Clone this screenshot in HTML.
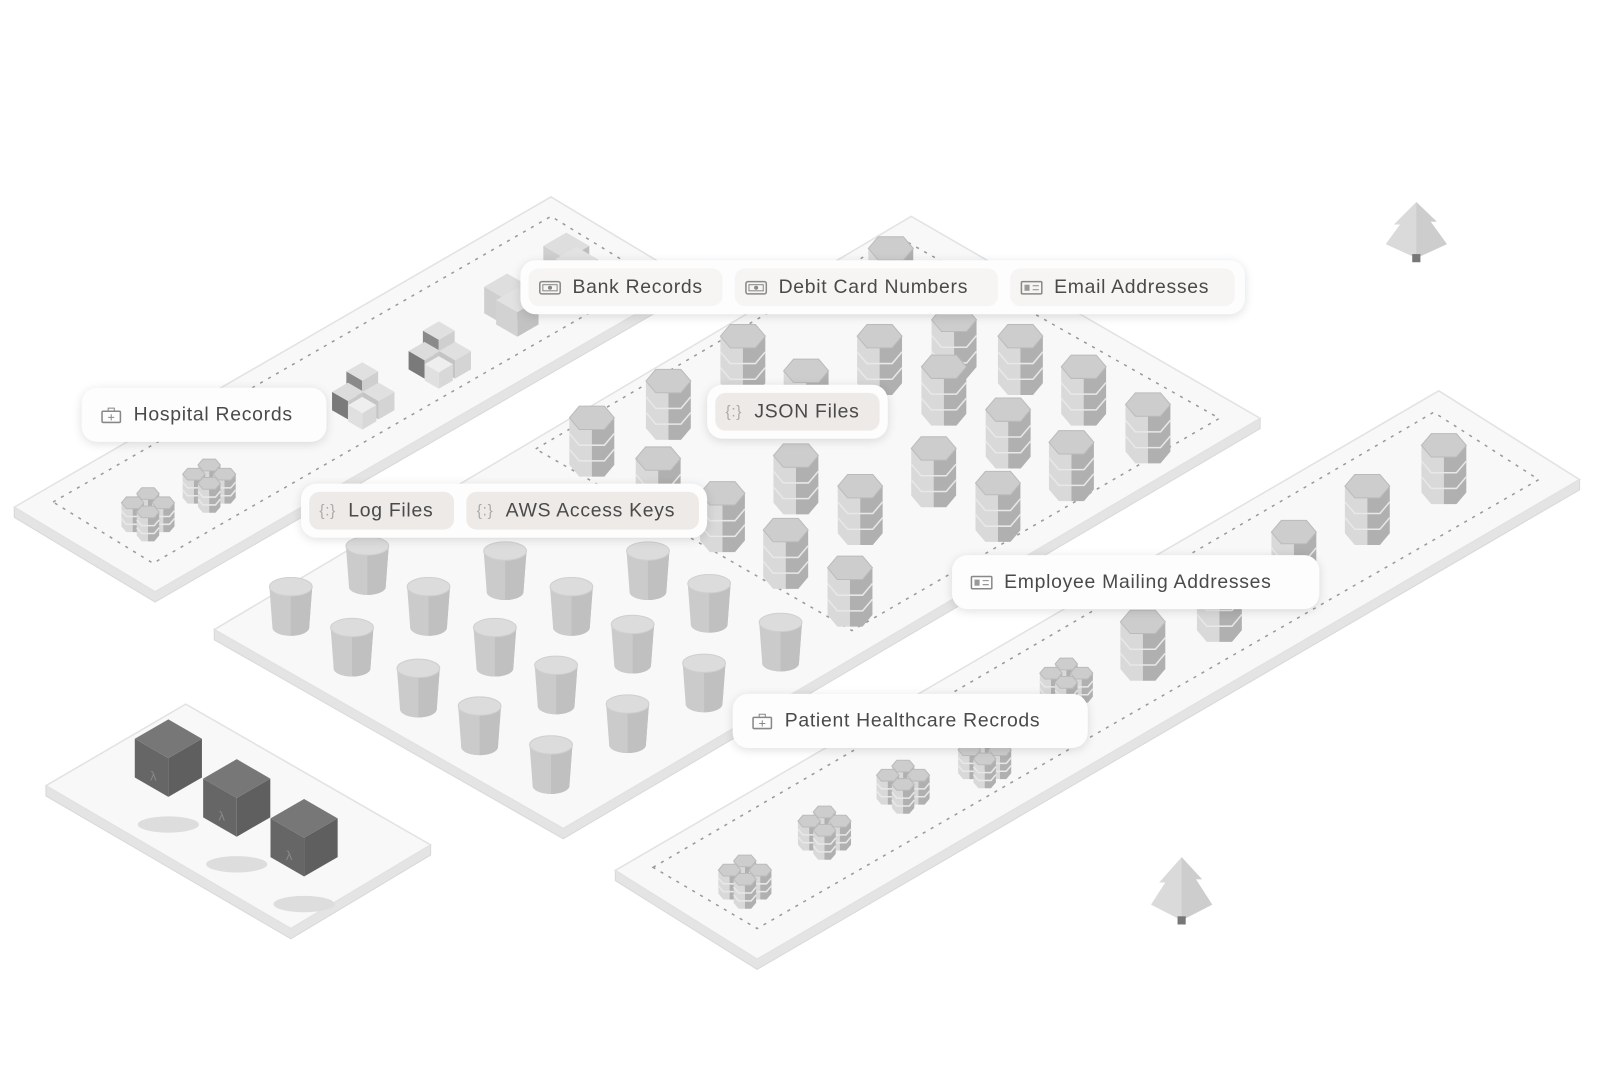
<!DOCTYPE html>
<html><head><meta charset="utf-8">
<style>
html,body{margin:0;padding:0;background:#fff;}
#root{position:relative;width:1568px;height:1044px;transform:scale(1.0204);transform-origin:0 0;overflow:hidden;}
#scene{position:absolute;left:0;top:0;}
.grp{position:absolute;height:53px;background:#fdfdfd;border-radius:15px;box-shadow:0 2px 10px rgba(0,0,0,.13);display:flex;align-items:center;padding:0 8px;box-sizing:border-box;gap:12px;}
.pill{height:37px;border-radius:10px;display:flex;align-items:center;padding:0 10px;box-sizing:border-box;background:#f7f5f4;font-family:"Liberation Sans",sans-serif;font-size:19px;color:#4a4a4a;letter-spacing:0.7px;white-space:nowrap;}
.pill.pk{background:#eeeae8;}
.pill.wh{background:transparent;}
.ic{width:22px;height:16px;margin-right:11px;flex:none;position:static;}
</style></head>
<body>
<div id="root">
<svg id="scene" width="1568" height="1044" viewBox="0 0 1568 1044"></svg>

<div class="grp" style="left:510px;top:255px;width:710px;">
 <div class="pill" style="width:190px"><svg class="ic" viewBox="0 0 22 16"><rect x="1" y="2" width="20" height="12" rx="2" fill="none" stroke="#888" stroke-width="1.5"/><rect x="4" y="5" width="14" height="6" fill="none" stroke="#888"/><circle cx="11" cy="8" r="2" fill="#888"/></svg>Bank Records</div>
 <div class="pill" style="width:258px"><svg class="ic" viewBox="0 0 22 16"><rect x="1" y="2" width="20" height="12" rx="2" fill="none" stroke="#888" stroke-width="1.5"/><rect x="4" y="5" width="14" height="6" fill="none" stroke="#888"/><circle cx="11" cy="8" r="2" fill="#888"/></svg>Debit Card Numbers</div>
 <div class="pill" style="width:220px"><svg class="ic" viewBox="0 0 22 16"><rect x="1" y="2" width="20" height="12" rx="1" fill="none" stroke="#888" stroke-width="1.5"/><rect x="4" y="5" width="5" height="6" fill="#999"/><line x1="12" y1="6" x2="18" y2="6" stroke="#888"/><line x1="12" y1="10" x2="18" y2="10" stroke="#888"/></svg>Email Addresses</div>
</div>

<div class="grp" style="left:80px;top:380px;width:240px;">
 <div class="pill wh"><svg class="ic" viewBox="0 0 22 16"><rect x="2" y="4" width="18" height="11" rx="1" fill="none" stroke="#888" stroke-width="1.5"/><path d="M8 4V1h6v3" fill="none" stroke="#888"/><path d="M11 7v6M8 10h6" stroke="#888"/></svg>Hospital Records</div>
</div>

<div class="grp" style="left:693px;top:377px;width:177px;">
 <div class="pill pk" style="width:161px"><span style="color:#aaa;font-size:15px;margin-right:12px">{:}</span>JSON Files</div>
</div>

<div class="grp" style="left:295px;top:474px;width:398px;">
 <div class="pill pk" style="width:143px"><span style="color:#aaa;font-size:15px;margin-right:12px">{:}</span>Log Files</div>
 <div class="pill pk" style="width:229px"><span style="color:#aaa;font-size:15px;margin-right:12px">{:}</span>AWS Access Keys</div>
</div>

<div class="grp" style="left:933px;top:544px;width:360px;">
 <div class="pill wh"><svg class="ic" viewBox="0 0 22 16"><rect x="1" y="2" width="20" height="12" rx="1" fill="none" stroke="#888" stroke-width="1.5"/><rect x="4" y="5" width="5" height="6" fill="#999"/><line x1="12" y1="6" x2="18" y2="6" stroke="#888"/><line x1="12" y1="10" x2="18" y2="10" stroke="#888"/></svg>Employee Mailing Addresses</div>
</div>

<div class="grp" style="left:718px;top:680px;width:348px;">
 <div class="pill wh"><svg class="ic" viewBox="0 0 22 16"><rect x="2" y="4" width="18" height="11" rx="1" fill="none" stroke="#888" stroke-width="1.5"/><path d="M8 4V1h6v3" fill="none" stroke="#888"/><path d="M11 7v6M8 10h6" stroke="#888"/></svg>Patient Healthcare Recrods</div>
</div>
</div>

<script>
const platforms = [
  [[14,497],[540,193],[678,276],[152,580]],
  [[210,617],[893,212],[1235,410],[552,812]],
  [[603,853],[1410,383],[1548,470],[742,940]],
  [[45,770],[182,690],[422,828],[285,910]]
];
const dashed = [
  [[52,492],[540,212],[638,272],[150,552]],
  [[525,440],[880,232],[1195,410],[835,618]],
  [[640,850],[1405,404],[1508,470],[742,910]]
];
const buckets = [[360,535],[495,540],[635,540],[285,575],[420,575],[560,575],[695,572],[345,615],[485,615],[620,612],[765,610],[410,655],[545,652],[690,650],[470,692],[615,690],[540,730]];
const dbs = [[873,232],[728,318],[790,352],[862,318],[1000,318],[935,302],[655,362],[925,348],[1062,348],[580,398],[645,438],[780,435],[988,390],[1125,385],[915,428],[1050,422],[708,472],[843,465],[978,462],[770,508],[833,545],[1415,425],[1340,465],[1268,510],[1195,560],[1120,598]];
const clusters = [[145,478],[205,450],[1045,645],[885,745],[808,790],[730,838],[965,720]];
const blocks = [[355,355],[430,315]];
const stacks = [[497,268],[555,228]];
const darkCubes = [[165,705],[232,744],[298,783]];
const trees = [[1388,198,55],[1158,840,62]];

const S = document.getElementById('scene');
const NS = 'http://www.w3.org/2000/svg';
function el(tag, attrs, name){
  const e = document.createElementNS(NS, tag);
  for (const k in attrs) e.setAttribute(k, attrs[k]);
  
  
  S.appendChild(e); return e;
}
const pts = a => a.map(p=>p[0]+','+p[1]).join(' ');

platforms.forEach((p,i)=>{
  const [L,T,R,B]=p, h=10;
  el('polygon',{points:pts([L,B,R,[R[0],R[1]+h],[B[0],B[1]+h],[L[0],L[1]+h]]),fill:'#e4e4e4',stroke:'#d8d8d8','stroke-width':1},'platform-side-'+i);
  el('polygon',{points:pts(p),fill:'#f8f8f8',stroke:'#e2e2e2','stroke-width':1.5},'platform-'+i);
});
dashed.forEach((p,i)=>{
  el('polygon',{points:pts(p),fill:'none',stroke:'#9a9a9a','stroke-width':1.5,'stroke-dasharray':'3 6'},'dashed-zone-'+i);
});

function bucket(x,y,i){
  el('ellipse',{cx:x,cy:y+40,rx:18,ry:8,fill:'#bdbdbd'},'bucket-base-'+i);
  el('path',{d:`M${x-21} ${y} L${x-18} ${y+40} A18 8 0 0 0 ${x+18} ${y+40} L${x+21} ${y} Z`,fill:'#cbcbcb'},'bucket-body-'+i);
  el('path',{d:`M${x} ${y} L${x+21} ${y} L${x+18} ${y+40} A18 8 0 0 1 ${x} ${y+48} Z`,fill:'#c0c0c0'},'bucket-shade-'+i);
  el('ellipse',{cx:x,cy:y,rx:21,ry:9,fill:'#dcdcdc',stroke:'#cfcfcf'},'bucket-top-'+i);
}
function db(x,y,w,i,name){
  const hw=w/2, q=w*0.22, ry=w*0.26, H=w*1.05;
  const oct=(yy)=>[[x-hw,yy],[x-hw+q,yy-ry],[x+hw-q,yy-ry],[x+hw,yy],[x+hw-q,yy+ry],[x-hw+q,yy+ry]];
  const cy=y+ry;
  el('polygon',{points:pts([[x-hw,cy],[x-hw+q,cy+ry],[x,cy+ry],[x,cy+ry+H],[x-hw+q,cy+ry+H],[x-hw,cy+H]]),fill:'#d9d9d9'},name+'-left-'+i);
  el('polygon',{points:pts([[x,cy+ry],[x+hw-q,cy+ry],[x+hw,cy],[x+hw,cy+H],[x+hw-q,cy+ry+H],[x,cy+ry+H]]),fill:'#b0b0b0'},name+'-right-'+i);
  for(let k=1;k<3;k++){
    const yy=cy+H*k/3;
    el('polyline',{points:pts([[x-hw,yy],[x-hw+q,yy+ry],[x+hw-q,yy+ry],[x+hw,yy]]),fill:'none',stroke:'#e8e8e8','stroke-width':1.5},name+'-band-'+i);
  }
  el('polygon',{points:pts(oct(cy)),fill:'#cdcdcd',stroke:'#bbb'},name+'-top-'+i);
}
function cube(x,y,s,top,left,right,name,i){
  const a=s*0.866,b=s*0.5;
  el('polygon',{points:pts([[x-a,y+b],[x,y+s],[x,y+2*s],[x-a,y+1.5*s]]),fill:left},name+'-left-'+i);
  el('polygon',{points:pts([[x+a,y+b],[x,y+s],[x,y+2*s],[x+a,y+1.5*s]]),fill:right},name+'-right-'+i);
  el('polygon',{points:pts([[x,y],[x+a,y+b],[x,y+s],[x-a,y+b]]),fill:top},name+'-top-'+i);
}

stacks.forEach((p,i)=>{
  cube(p[0],p[1],26,'#dedede','#cfcfcf','#bdbdbd','paper-stack',i);
  cube(p[0]+10,p[1]+14,24,'#e2e2e2','#d2d2d2','#c2c2c2','paper-stack-b',i);
});
blocks.forEach((p,i)=>{
  cube(p[0],p[1],18,'#e0e0e0','#8a8a8a','#cfcfcf','block-top',i);
  cube(p[0]-14,p[1]+20,18,'#dcdcdc','#7a7a7a','#c8c8c8','block-left',i);
  cube(p[0]+16,p[1]+20,18,'#e0e0e0','#c4c4c4','#d4d4d4','block-right',i);
  cube(p[0],p[1]+34,16,'#eeeeee','#e0e0e0','#d8d8d8','block-front',i);
});
const objs=[];
dbs.forEach((p,i)=>objs.push([p[1],()=>db(p[0],p[1],44,i,'database')]));
buckets.forEach((p,i)=>objs.push([p[1],()=>bucket(p[0],p[1],i)]));
clusters.forEach((p,i)=>objs.push([p[1],()=>{
  db(p[0],p[1],22,i,'cluster-back');
  db(p[0]-15,p[1]+9,22,i,'cluster-left');
  db(p[0]+15,p[1]+9,22,i,'cluster-right');
  db(p[0],p[1]+18,22,i,'cluster-front');
}]));
objs.sort((a,b)=>a[0]-b[0]).forEach(o=>o[1]());

darkCubes.forEach((p,i)=>{
  el('ellipse',{cx:p[0],cy:p[1]+103,rx:30,ry:8,fill:'#dddddd'},'cube-shadow-'+i);
  cube(p[0],p[1],38,'#777','#666','#5f5f5f','lambda-cube',i);
  el('text',{x:p[0]-18,y:p[1]+60,'font-family':'Liberation Sans, sans-serif','font-size':13,fill:'#888'},'lambda-symbol-'+i).textContent='λ';
});
trees.forEach((t,i)=>{
  const [x,y,h]=t;
  el('polygon',{points:pts([[x,y],[x+20,y+h*0.35],[x+14,y+h*0.35],[x+30,y+h*0.75],[x,y+h],[x-30,y+h*0.75],[x-16,y+h*0.4],[x-22,y+h*0.4]]),fill:'#dadada'},'tree-'+i);
  el('polygon',{points:pts([[x,y],[x+20,y+h*0.35],[x+14,y+h*0.35],[x+30,y+h*0.75],[x,y+h]]),fill:'#cdcdcd'},'tree-shade-'+i);
  el('rect',{x:x-4,y:y+h-4,width:8,height:8,fill:'#777'},'tree-trunk-'+i);
});
</script>
</body></html>
